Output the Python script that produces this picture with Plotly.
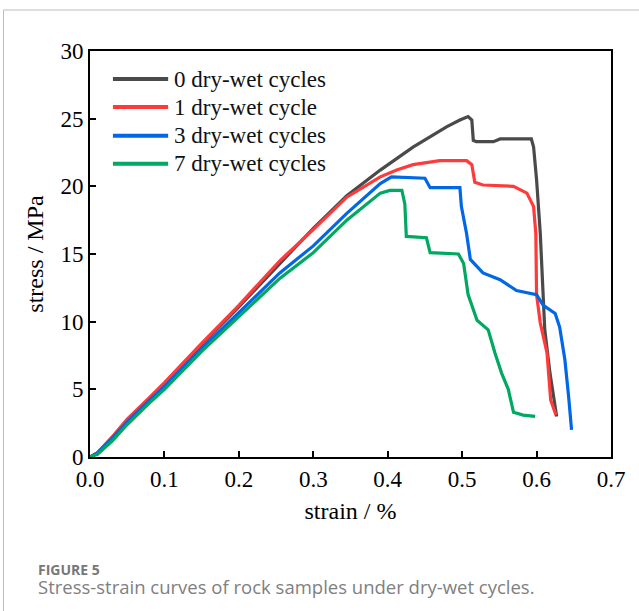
import plotly.graph_objects as go

# Stress-strain data (strain in %, stress in MPa)
series_names = ["0 dry-wet cycles", "1 dry-wet cycle", "3 dry-wet cycles", "7 dry-wet cycles"]
series_colors = ["#4a4a4a", "#ff3a3a", "#0068e6", "#00a862"]

strain_0 = [0, 0.01, 0.03, 0.05, 0.08, 0.1, 0.15, 0.2, 0.25, 0.3, 0.345, 0.39, 0.434,
            0.479, 0.497, 0.508, 0.513, 0.515, 0.519, 0.542, 0.551, 0.593, 0.596, 0.600,
            0.605, 0.608, 0.611, 0.618, 0.627]
stress_0 = [0, 0.3, 1.4, 2.7, 4.3, 5.4, 8.3, 11.1, 14.0, 16.9, 19.3, 21.2, 22.9,
            24.4, 24.9, 25.15, 24.9, 23.4, 23.3, 23.3, 23.5, 23.5, 22.9, 20.5,
            16.5, 12.6, 9.4, 6.2, 3.0]

strain_1 = [0, 0.01, 0.03, 0.05, 0.08, 0.1, 0.15, 0.2, 0.255, 0.3, 0.345, 0.39, 0.412,
            0.434, 0.47, 0.506, 0.513, 0.517, 0.528, 0.569, 0.587, 0.596, 0.599, 0.600,
            0.605, 0.614, 0.619, 0.626]
stress_1 = [0, 0.3, 1.5, 2.8, 4.4, 5.5, 8.4, 11.2, 14.5, 16.8, 19.2, 20.7, 21.2,
            21.6, 21.9, 21.9, 21.6, 20.3, 20.1, 20.0, 19.5, 18.5, 16.5, 12.0,
            9.9, 7.7, 4.2, 3.1]

strain_3 = [0, 0.01, 0.03, 0.05, 0.08, 0.1, 0.15, 0.2, 0.255, 0.3, 0.345, 0.39, 0.405,
            0.45, 0.457, 0.497, 0.499, 0.506, 0.511, 0.528, 0.551, 0.573, 0.600, 0.609,
            0.625, 0.631, 0.638, 0.643, 0.647]
stress_3 = [0, 0.3, 1.4, 2.6, 4.2, 5.2, 8.0, 10.7, 13.6, 15.6, 18.0, 20.2, 20.7,
            20.6, 19.9, 19.9, 18.5, 16.5, 14.6, 13.6, 13.1, 12.3, 12.0, 11.2,
            10.6, 9.6, 7.2, 4.5, 2.0]

strain_7 = [0, 0.01, 0.03, 0.05, 0.08, 0.1, 0.15, 0.2, 0.255, 0.3, 0.345, 0.39, 0.403,
            0.419, 0.423, 0.425, 0.452, 0.457, 0.495, 0.502, 0.508, 0.52, 0.535, 0.544,
            0.553, 0.562, 0.569, 0.582, 0.598]
stress_7 = [0, 0.2, 1.2, 2.4, 4.0, 5.0, 7.8, 10.4, 13.2, 15.1, 17.5, 19.5, 19.7,
            19.7, 18.7, 16.3, 16.2, 15.1, 15.0, 14.3, 12.0, 10.1, 9.4, 7.7,
            6.2, 5.0, 3.3, 3.1, 3.0]

x_ticks = [0.0, 0.1, 0.2, 0.3, 0.4, 0.5, 0.6, 0.7]
y_ticks = [0, 5, 10, 15, 20, 25, 30]

strains = [strain_0, strain_1, strain_3, strain_7]
stresses = [stress_0, stress_1, stress_3, stress_7]

SERIF = "Liberation Serif, Times New Roman, serif"
SANS = "Open Sans, Noto Sans, sans-serif"

fig = go.Figure()
for name, color, xs, ys in zip(series_names, series_colors, strains, stresses):
    fig.add_trace(go.Scatter(x=xs, y=ys, mode="lines", name=name,
                             line=dict(color=color, width=3.2),
                             showlegend=False))

# Legend drawn inside the top-left corner of the axes
shapes = []
annotations = []
leg_rows = [0.931, 0.862, 0.791, 0.722]
for name, color, yr in zip(series_names, series_colors, leg_rows):
    shapes.append(dict(type="line", xref="x domain", yref="y domain",
                       x0=0.044, x1=0.150, y0=yr, y1=yr,
                       line=dict(color=color, width=4)))
    annotations.append(dict(xref="x domain", yref="y domain", x=0.158, y=yr,
                            text=name, showarrow=False, xanchor="left",
                            yanchor="middle",
                            font=dict(family=SERIF, size=23, color="#111")))

# Card border (left and top edges)
shapes.append(dict(type="line", xref="paper", yref="paper", x0=-0.166, x1=-0.166,
                   y0=-0.40, y1=1.101, line=dict(color="#bdbdbd", width=1)))
shapes.append(dict(type="line", xref="paper", yref="paper", x0=-0.166, x1=1.06,
                   y0=1.101, y1=1.101, line=dict(color="#bdbdbd", width=1)))

# Caption block: label line and description line
caption = ("<b><span style='font-size:14px;color:#777777'>FIGURE 5</span></b><br>"
           "<span style='font-size:18.5px'>Stress-strain curves of rock samples "
           "under dry-wet cycles.</span>")
annotations.append(dict(xref="paper", yref="paper", x=-0.103, y=-0.3005,
                        text=caption, showarrow=False, xanchor="left", align="left",
                        yanchor="middle",
                        font=dict(family=SANS, size=14.6, color="#808080")))

axis_common = dict(showline=True, linecolor="black", linewidth=2, mirror=True,
                   ticks="inside", ticklen=6, tickwidth=2, tickcolor="black",
                   showgrid=False, zeroline=False,
                   tickfont=dict(family=SERIF, size=23, color="black"))

fig.update_layout(
    width=639, height=611,
    margin=dict(l=90, r=28, t=51, b=154),
    paper_bgcolor="white", plot_bgcolor="white",
    xaxis=dict(range=[0, 0.7], tickvals=x_ticks, tickformat=".1f",
               title=dict(text="strain / %", font=dict(family=SERIF, size=24, color="black"),
                          standoff=12),
               **axis_common),
    yaxis=dict(range=[0, 30], tickvals=y_ticks,
               title=dict(text="stress / MPa", font=dict(family=SERIF, size=24, color="black"),
                          standoff=10),
               **axis_common),
    shapes=shapes,
    annotations=annotations,
)

fig.write_html("out.html")
